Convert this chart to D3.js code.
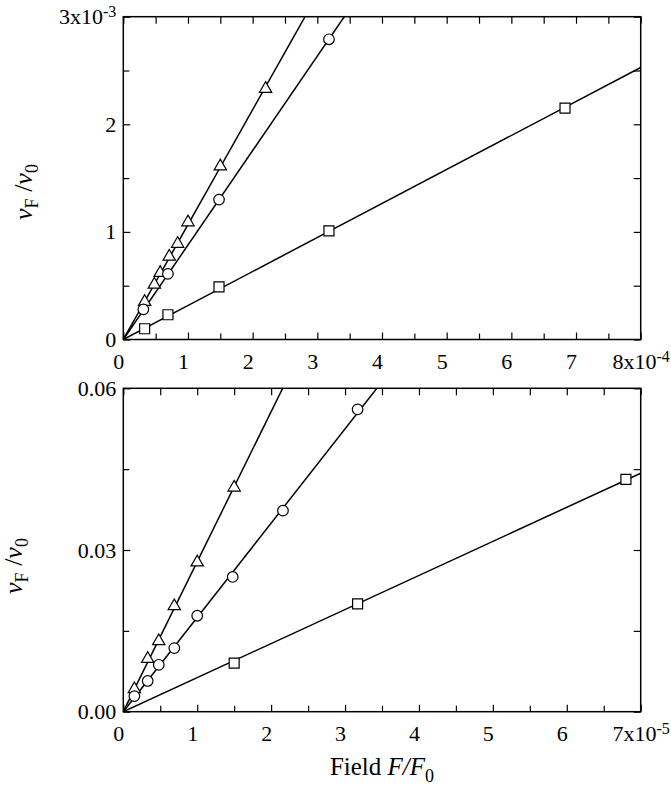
<!DOCTYPE html>
<html lang="en">
<head>
  <meta charset="UTF-8">
  <title>vF/v0 vs field</title>
  <style>
    body { margin: 0; background: #fff; }
    svg { display: block; font-family: 'Liberation Serif', 'Times New Roman', serif; }
    .frame { fill: none; stroke: #000; stroke-width: 1.5; }
    .fit { fill: none; stroke: #000; stroke-width: 1.5; }
    .mark { fill: #fff; stroke: #000; stroke-width: 1.2; }
  </style>
</head>
<body>
<div class="chart"></div>
<script src="https://d3js.org/d3.v7.min.js"></script>
<script>
  // top panel: x in units of 1e-4, y in units of 1e-3
  let topTriX = [0.33, 0.48, 0.57, 0.71, 0.84, 1.0, 1.5, 2.2]
  let topTriY = [0.35, 0.51, 0.62, 0.77, 0.89, 1.09, 1.61, 2.33]
  let topCircX = [0.31, 0.69, 1.48, 3.18]
  let topCircY = [0.28, 0.61, 1.30, 2.79]
  let topSqX = [0.33, 0.69, 1.48, 3.18, 6.83]
  let topSqY = [0.10, 0.23, 0.49, 1.01, 2.15]
  let topXTicks = [0, 1, 2, 3, 4, 5, 6, 7, 8]
  let topYTicks = [0, 1, 2, 3]

  // bottom panel: x in units of 1e-5
  let botTriX = [0.15, 0.33, 0.48, 0.69, 1.0, 1.5]
  let botTriY = [0.0042, 0.0098, 0.0131, 0.0196, 0.0277, 0.0416]
  let botCircX = [0.15, 0.33, 0.48, 0.69, 1.0, 1.48, 2.16, 3.17]
  let botCircY = [0.0029, 0.0057, 0.0087, 0.0118, 0.0178, 0.0250, 0.0373, 0.0561]
  let botSqX = [1.5, 3.17, 6.8]
  let botSqY = [0.0090, 0.0200, 0.0431]
  let botXTicks = [0, 1, 2, 3, 4, 5, 6, 7]
  let botYTicks = [0, 0.03, 0.06]

  let width = 671
  let height = 798
  let padL = 123.3
  let padR = 30.3
  let svg = d3.select('.chart').append('svg').attr('width', width).attr('height', height)

  drawPanel({
    top: 16.7, bottom: 339.5,
    xMax: 8, yMax: 3,
    xTicks: topXTicks, yTicks: topYTicks,
    yMinor: [0.5, 1.5, 2.5],
    yFmt: d => d3.format('d')(d),
    xExp: '-4', yExp: '-3',
    series: [
      { x: topTriX, y: topTriY, shape: d3.symbolTriangle, size: 66 },
      { x: topCircX, y: topCircY, shape: d3.symbolCircle, size: 88 },
      { x: topSqX, y: topSqY, shape: d3.symbolSquare, size: 100 }
    ],
    labelX: 32, labelY: 192
  })

  drawPanel({
    top: 388.3, bottom: 711.7,
    xMax: 7, yMax: 0.06,
    xTicks: botXTicks, yTicks: botYTicks,
    yMinor: [0.015, 0.045],
    yFmt: d => d3.format('.2f')(d),
    xExp: '-5', yExp: null,
    series: [
      { x: botTriX, y: botTriY, shape: d3.symbolTriangle, size: 66 },
      { x: botCircX, y: botCircY, shape: d3.symbolCircle, size: 88 },
      { x: botSqX, y: botSqY, shape: d3.symbolSquare, size: 100 }
    ],
    labelX: 22, labelY: 566
  })

  // x axis title
  let xt = svg.append('text')
    .attr('x', (padL + width - padR) / 2)
    .attr('y', 775)
    .attr('text-anchor', 'middle')
    .style('font-size', '25px')
  xt.append('tspan').text('Field ')
  xt.append('tspan').style('font-style', 'italic').text('F/F')
  xt.append('tspan').attr('dy', 7).style('font-size', '18px').text('0')

  // least squares slope of a line through the origin
  function fitSlope (xs, ys) {
    return d3.sum(xs, (d, i) => d * ys[i]) / d3.sum(xs, d => d * d)
  }

  // strip d3's default axis font so the serif from the svg is used
  function styleAxis (sel) {
    sel.attr('font-family', null).attr('font-size', null)
    sel.select('.domain').remove()
    sel.selectAll('.tick line').attr('stroke', '#000').attr('stroke-width', 1.2)
    sel.selectAll('.tick text')
      .style('font-family', "'Liberation Serif', 'Times New Roman', serif")
      .style('font-size', '22px')
      .attr('fill', '#000')
  }

  function drawPanel (p) {
    let x = d3.scaleLinear().domain([0, p.xMax]).range([padL, width - padR])
    let y = d3.scaleLinear().domain([0, p.yMax]).range([p.bottom, p.top])
    let xMinor = d3.range(0.5, p.xMax, 1)
    let g = svg.append('g')
    let id = 'clip' + Math.round(p.top)

    svg.append('clipPath').attr('id', id)
      .append('rect')
      .attr('x', padL).attr('y', p.top)
      .attr('width', width - padR - padL).attr('height', p.bottom - p.top)

    // bottom axis with labels
    let gx = g.append('g').attr('transform', 'translate(0,' + p.bottom + ')')
      .call(d3.axisBottom(x).tickValues(p.xTicks).tickSizeInner(-7).tickSizeOuter(0).tickPadding(14)
        .tickFormat(d3.format('d')))
      .call(styleAxis)
    gx.selectAll('.tick text').attr('dx', -5)
    let lastX = gx.selectAll('.tick text').filter(d => d === p.xMax)
    lastX.attr('dx', 0).text(p.xMax + 'x10')
    lastX.append('tspan').attr('dy', '-0.45em').style('font-size', '16px').text(p.xExp)

    g.append('g').attr('transform', 'translate(0,' + p.bottom + ')')
      .call(d3.axisBottom(x).tickValues(xMinor).tickSizeInner(-6).tickSizeOuter(0).tickFormat(''))
      .call(styleAxis)
    g.append('g').attr('transform', 'translate(0,' + p.top + ')')
      .call(d3.axisTop(x).tickValues(p.xTicks.concat(xMinor)).tickSizeInner(-7).tickSizeOuter(0).tickFormat(''))
      .call(styleAxis)

    // left axis with labels
    let gy = g.append('g').attr('transform', 'translate(' + padL + ',0)')
      .call(d3.axisLeft(y).tickValues(p.yTicks).tickSizeInner(-7).tickSizeOuter(0).tickPadding(7)
        .tickFormat(p.yFmt))
      .call(styleAxis)
    if (p.yExp) {
      let lastY = gy.selectAll('.tick text').filter(d => d === p.yMax)
      lastY.text(p.yMax + 'x10')
      lastY.append('tspan').attr('dy', '-0.45em').style('font-size', '16px').text(p.yExp)
    }
    g.append('g').attr('transform', 'translate(' + padL + ',0)')
      .call(d3.axisLeft(y).tickValues(p.yMinor).tickSizeInner(-6).tickSizeOuter(0).tickFormat(''))
      .call(styleAxis)
    g.append('g').attr('transform', 'translate(' + (width - padR) + ',0)')
      .call(d3.axisRight(y).tickValues(p.yTicks.concat(p.yMinor)).tickSizeInner(-7).tickSizeOuter(0).tickFormat(''))
      .call(styleAxis)

    g.append('rect').attr('class', 'frame')
      .attr('x', padL).attr('y', p.top)
      .attr('width', width - padR - padL).attr('height', p.bottom - p.top)

    // fitted straight lines through the origin, clipped to the frame
    let line = d3.line().x(d => x(d[0])).y(d => y(d[1]))
    let lines = g.append('g').attr('clip-path', 'url(#' + id + ')')
    p.series.forEach(s => {
      let k = fitSlope(s.x, s.y)
      lines.append('path').attr('class', 'fit')
        .attr('d', line([[0, 0], [p.xMax, k * p.xMax]]))
    })

    // markers
    p.series.forEach(s => {
      g.append('g').selectAll('path').data(s.x)
        .enter().append('path').attr('class', 'mark')
        .attr('transform', (d, i) => 'translate(' + x(d) + ',' + y(s.y[i]) + ')')
        .attr('d', d3.symbol().type(s.shape).size(s.size))
    })

    // y axis title
    let yt = svg.append('text')
      .attr('transform', 'translate(' + p.labelX + ',' + p.labelY + ') rotate(-90)')
      .attr('text-anchor', 'middle')
      .style('font-size', '26px')
    yt.append('tspan').style('font-style', 'italic').text('v')
    yt.append('tspan').attr('dy', 6).style('font-size', '18px').text('F')
    yt.append('tspan').attr('dy', -6).text(' /')
    yt.append('tspan').style('font-style', 'italic').text('v')
    yt.append('tspan').attr('dy', 6).style('font-size', '18px').text('0')
  }
</script>
</body>
</html>
